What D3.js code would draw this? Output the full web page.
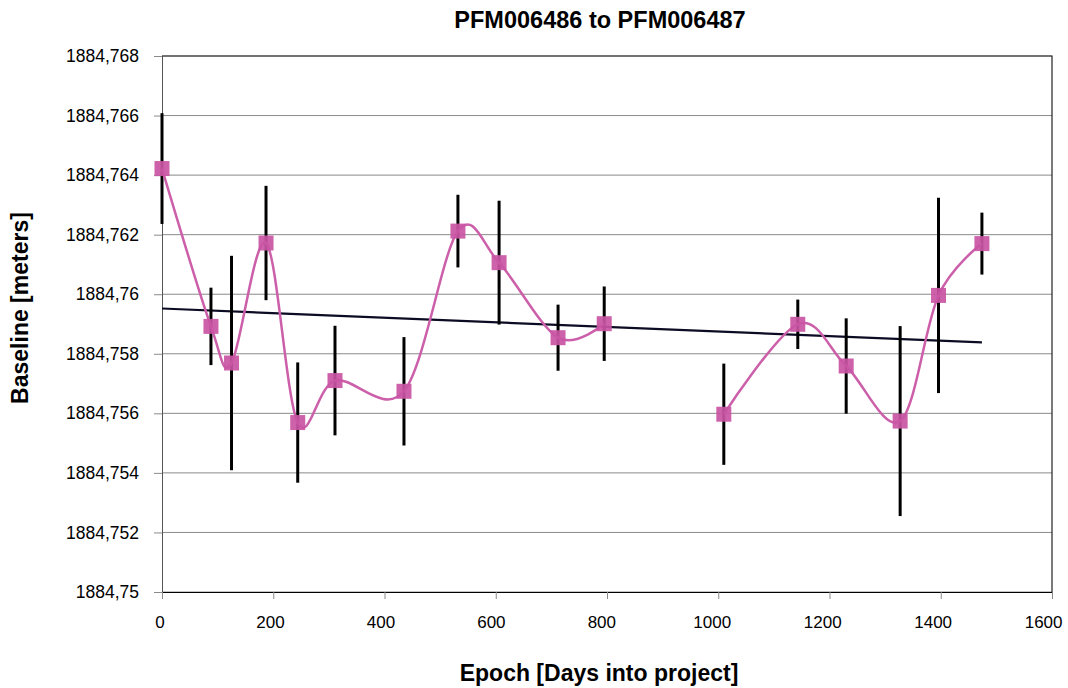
<!DOCTYPE html>
<html>
<head>
<meta charset="utf-8">
<script src="https://cdn.jsdelivr.net/npm/d3@7"></script>
<style>
  html, body { margin: 0; padding: 0; background: #fff; }
  svg { display: block; font-family: "Liberation Sans", Arial, sans-serif; }
</style>
</head>
<body>
<svg id="chart" width="1068" height="688"></svg>
<script>
// Epochs (days into project), measured baselines (m) and their error half-widths (m)
const epochs    = [0, 88, 125, 187, 244, 311, 435, 532, 606, 712, 795, 1010, 1143, 1230, 1327, 1396, 1474];
const baselines = [1884.76422, 1884.75892, 1884.75769, 1884.76172, 1884.75569, 1884.75710, 1884.75674,
                   1884.76212, 1884.76106, 1884.75854, 1884.75901, 1884.75597, 1884.75899, 1884.75759,
                   1884.75574, 1884.75996, 1884.76170];
const errors    = [0.00186, 0.00130, 0.00360, 0.00192, 0.00202, 0.00184, 0.00182, 0.00122, 0.00208,
                   0.00111, 0.00125, 0.00170, 0.00083, 0.00160, 0.00319, 0.00328, 0.00104];
// The smoothed series is broken between these two epochs
const breakAfterIndex = 10;

// Linear trend: baseline = intercept + slope * day
const trendIntercept = 1884.75952;
const trendSlope = -7.73e-7;

const xTicks = [0, 200, 400, 600, 800, 1000, 1200, 1400, 1600];
const yTicks = [1884.750, 1884.752, 1884.754, 1884.756, 1884.758, 1884.760, 1884.762, 1884.764, 1884.766, 1884.768];

const titleText = "PFM006486 to PFM006487";
const xLabel = "Epoch [Days into project]";
const yLabel = "Baseline [meters]";

const plot = { left: 162, top: 56, right: 1052, bottom: 592 };

const svg = d3.select("#chart");

const x = d3.scaleLinear().domain([0, 1600]).range([plot.left, plot.right]);
const y = d3.scaleLinear().domain([1884.750, 1884.768]).range([plot.bottom, plot.top]);

const fmtY = v => String(+v.toFixed(3)).replace(".", ",");

// Horizontal gridlines
svg.append("g")
  .selectAll("line")
  .data(yTicks)
  .join("line")
  .attr("x1", plot.left).attr("x2", plot.right)
  .attr("y1", d => y(d)).attr("y2", d => y(d))
  .attr("stroke", "#8a8a8a").attr("stroke-width", 1);

// Y axis
const yAxis = svg.append("g")
  .attr("transform", `translate(${plot.left},0)`)
  .call(d3.axisLeft(y).tickValues(yTicks).tickFormat(fmtY).tickSize(8).tickPadding(15));
yAxis.select(".domain").attr("stroke", "#555");
yAxis.selectAll(".tick line").attr("stroke", "#8a8a8a");
yAxis.selectAll("text").attr("font-size", 17.5).attr("fill", "#000")
  .attr("font-family", "Liberation Sans, Arial, sans-serif");

// X axis
const xAxis = svg.append("g")
  .attr("transform", `translate(0,${plot.bottom})`)
  .call(d3.axisBottom(x).tickValues(xTicks).tickFormat(d3.format("d")).tickSize(7).tickPadding(17));
xAxis.select(".domain").attr("stroke", "#000");
xAxis.selectAll(".tick line").attr("stroke", "#8a8a8a");
// labels sit slightly left of their ticks so the last one stays inside the canvas
xAxis.selectAll("text").attr("font-size", 17).attr("fill", "#000")
  .attr("font-family", "Liberation Sans, Arial, sans-serif")
  .attr("dx", d => -(2.5 + d * 0.004));

// Plot frame (top and right edges)
svg.append("path")
  .attr("d", `M${plot.left},${plot.top}H${plot.right}V${plot.bottom}`)
  .attr("fill", "none").attr("stroke", "#222").attr("stroke-width", 1.2);

// Trend line
svg.append("line")
  .attr("x1", x(0)).attr("y1", y(trendIntercept))
  .attr("x2", x(epochs[epochs.length - 1]))
  .attr("y2", y(trendIntercept + trendSlope * epochs[epochs.length - 1]))
  .attr("stroke", "#0b0b24").attr("stroke-width", 2.2);

const points = epochs.map((e, i) => ({ e, v: baselines[i], err: errors[i] }));

// Error bars
svg.append("g")
  .selectAll("line")
  .data(points)
  .join("line")
  .attr("x1", d => x(d.e)).attr("x2", d => x(d.e))
  .attr("y1", d => y(d.v + d.err)).attr("y2", d => y(d.v - d.err))
  .attr("stroke", "#000").attr("stroke-width", 3);

// Smoothed series line, two separate segments
const line = d3.line()
  .x(d => x(d.e)).y(d => y(d.v))
  .curve(d3.curveCardinal.tension(0));
const segments = [points.slice(0, breakAfterIndex + 1), points.slice(breakAfterIndex + 1)];
svg.append("g")
  .selectAll("path")
  .data(segments)
  .join("path")
  .attr("d", line)
  .attr("fill", "none").attr("stroke", "#cc5fa9").attr("stroke-width", 2.5);

// Square markers
const ms = 15;
svg.append("g")
  .selectAll("rect")
  .data(points)
  .join("rect")
  .attr("x", d => x(d.e) - ms / 2).attr("y", d => y(d.v) - ms / 2)
  .attr("width", ms).attr("height", ms)
  .attr("fill", "#c955a4").attr("fill-opacity", 0.92);

// Title and axis labels
svg.append("text")
  .attr("x", 600).attr("y", 28)
  .attr("text-anchor", "middle")
  .attr("font-size", 23.5).attr("font-weight", "bold")
  .text(titleText);

svg.append("text")
  .attr("x", 599).attr("y", 681)
  .attr("text-anchor", "middle")
  .attr("font-size", 23).attr("font-weight", "bold")
  .text(xLabel);

svg.append("text")
  .attr("transform", "translate(28,308) rotate(-90)")
  .attr("text-anchor", "middle")
  .attr("font-size", 23).attr("font-weight", "bold")
  .text(yLabel);
</script>
</body>
</html>
